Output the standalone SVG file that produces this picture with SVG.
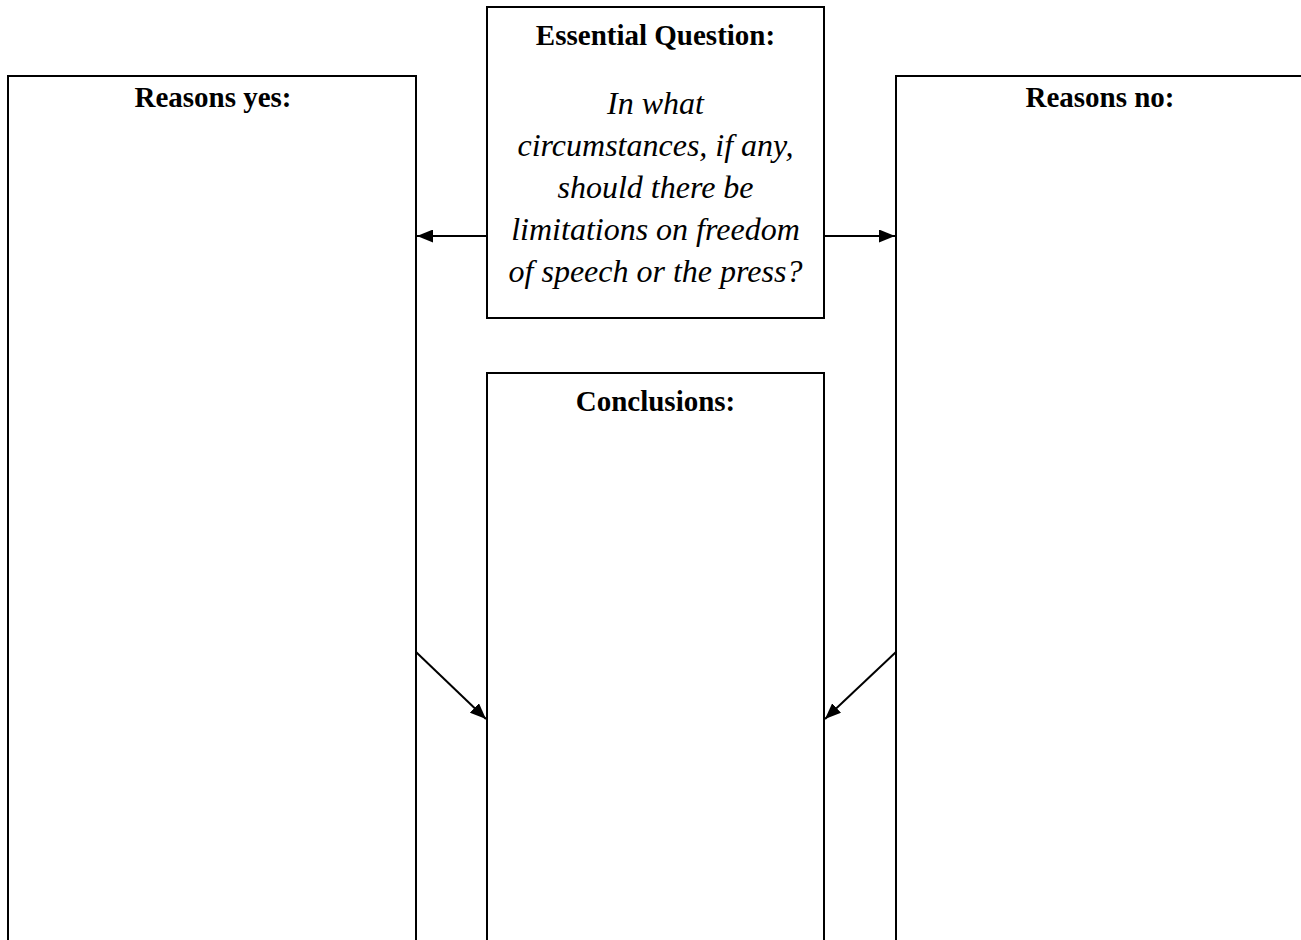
<svg xmlns="http://www.w3.org/2000/svg" width="1301" height="940" viewBox="0 0 1301 940">
<style>
.box{fill:#fff;stroke:#000;stroke-width:2}
.h{font-family:"Liberation Serif",serif;font-weight:bold;font-size:29px;text-anchor:middle;fill:#000}
.q{font-family:"Liberation Serif",serif;font-style:italic;font-size:32px;text-anchor:middle;fill:#000}
.c{stroke:#000;stroke-width:2;fill:none}
</style>
<defs>
<marker id="arr" viewBox="0 0 16 13" refX="16" refY="6.5" markerWidth="16" markerHeight="13" markerUnits="userSpaceOnUse" orient="auto"><path d="M0,0 L16,6.5 L0,13 z" fill="#000"/></marker>
</defs>
<rect width="1301" height="940" fill="#fff"/>
<g id="reasons-yes">
<path class="box" d="M8,945 L8,76 L416,76 L416,945"/>
<text class="h" x="213" y="107">Reasons yes:</text>
</g>
<g id="reasons-no">
<path class="box" d="M896,945 L896,76 L1310,76"/>
<text class="h" x="1100" y="107">Reasons no:</text>
</g>
<g id="essential-question">
<rect class="box" x="487" y="7" width="337" height="311"/>
<text class="h" x="655.5" y="45">Essential Question:</text>
<text class="q" x="655.5" y="114">In what</text>
<text class="q" x="655.5" y="156">circumstances, if any,</text>
<text class="q" x="655.5" y="198">should there be</text>
<text class="q" x="655.5" y="240">limitations on freedom</text>
<text class="q" x="655.5" y="282">of speech or the press?</text>
</g>
<g id="conclusions">
<path class="box" d="M487,945 L487,373 L824,373 L824,945"/>
<text class="h" x="655.5" y="411">Conclusions:</text>
</g>
<g id="connectors">
<line class="c" x1="487" y1="236" x2="417" y2="236" marker-end="url(#arr)"/>
<line class="c" x1="824" y1="236" x2="895" y2="236" marker-end="url(#arr)"/>
<line class="c" x1="416" y1="652" x2="486" y2="719" marker-end="url(#arr)"/>
<line class="c" x1="896" y1="652" x2="825" y2="719" marker-end="url(#arr)"/>
</g>
</svg>
